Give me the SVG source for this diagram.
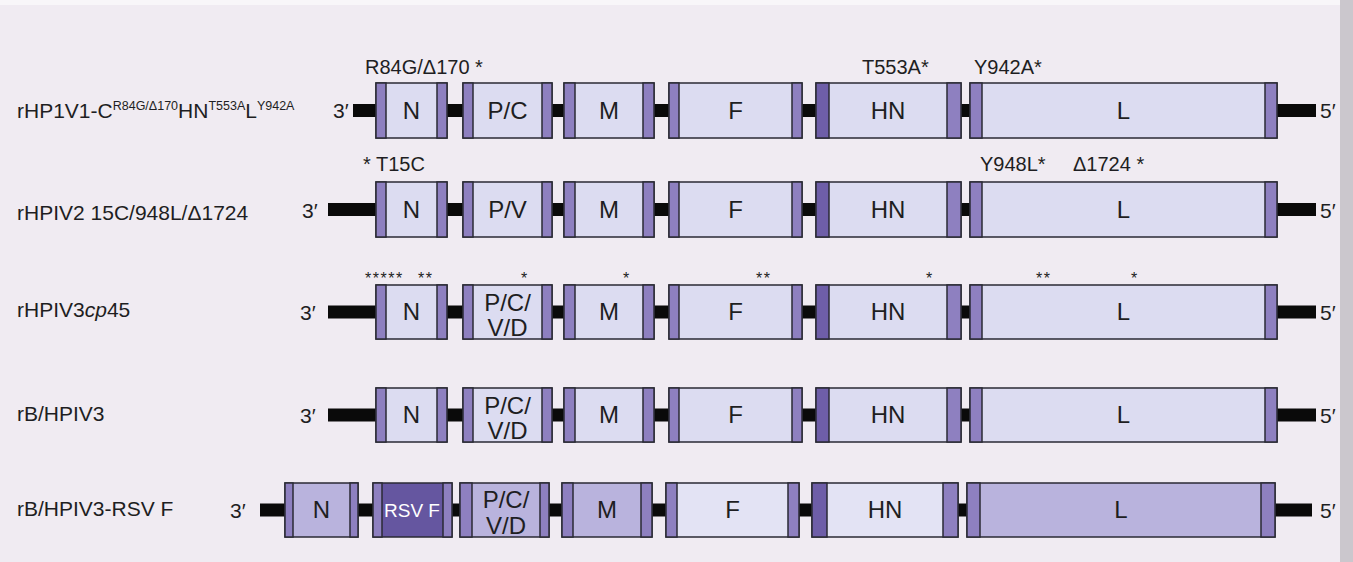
<svg xmlns="http://www.w3.org/2000/svg" width="1353" height="562" viewBox="0 0 1353 562">
<style>
.bg{fill:#f0ebf2}
.bar{fill:#0a0a0a}
.body{fill:#dcdcf1;stroke:#2a2a35;stroke-width:1.5}
.cap{fill:#8e80c0;stroke:#2a2a35;stroke-width:1.5}
.dcap{fill:#6e5ea8;stroke:#2a2a35;stroke-width:1.5}
.b5{fill:#b9b3dd;stroke:#2a2a35;stroke-width:1.5}
.b5l{fill:#e3e3f4;stroke:#2a2a35;stroke-width:1.5}
.rsv{fill:#6556a0;stroke:#2a2a35;stroke-width:1.5}
text{font-family:"Liberation Sans",Arial,Helvetica,sans-serif;fill:#1e1e22}
.lab{font-size:21px}
.sup{font-size:12.5px}
.g{font-size:24px;text-anchor:middle}
.ann{font-size:20px}
.star{font-size:16px;letter-spacing:1.5px}
.end{font-size:21px}
.w{fill:#ffffff;font-size:19px;text-anchor:middle}
</style>
<rect class="bg" x="0" y="0" width="1353" height="562"/>
<rect x="0" y="0" width="1353" height="5" fill="#f8f6f9"/>
<rect x="1340" y="0" width="13" height="562" fill="#cbc7cd"/>

<g id="connectors">
<rect class="bar" x="353" y="104" width="963" height="13"/>
<rect class="bar" x="328" y="203" width="988" height="13"/>
<rect class="bar" x="328" y="305.5" width="988" height="13"/>
<rect class="bar" x="328" y="408.5" width="988" height="13"/>
<rect class="bar" x="260" y="503.5" width="1052" height="13"/>
</g>

<!-- Row 1 -->
<g id="row1">
<text class="lab" x="17" y="118">rHP1V1-C<tspan class="sup" dy="-8">R84G/Δ170</tspan><tspan dy="8">HN</tspan><tspan class="sup" dy="-8">T553A</tspan><tspan dy="8">L</tspan><tspan class="sup" dy="-8">Y942A</tspan></text>
<text class="end" x="333" y="118">3′</text>
<text class="end" x="1320" y="118">5′</text>
<text class="ann" x="365" y="74">R84G/Δ170 *</text>
<text class="ann" x="862" y="74">T553A*</text>
<text class="ann" x="974" y="74">Y942A*</text>
</g>
<g id="r1-N"><rect class="body" x="376" y="83" width="71" height="55"/><rect class="cap" x="376" y="83" width="10" height="55"/><rect class="cap" x="437" y="83" width="10" height="55"/><text class="g" x="411.5" y="119">N</text></g>
<g id="r1-PC"><rect class="body" x="463" y="83" width="89" height="55"/><rect class="cap" x="463" y="83" width="10" height="55"/><rect class="cap" x="542" y="83" width="10" height="55"/><text class="g" x="507.5" y="119">P/C</text></g>
<g id="r1-M"><rect class="body" x="564" y="83" width="90" height="55"/><rect class="cap" x="564" y="83" width="11" height="55"/><rect class="cap" x="643" y="83" width="11" height="55"/><text class="g" x="609" y="119">M</text></g>
<g id="r1-F"><rect class="body" x="669" y="83" width="133" height="55"/><rect class="cap" x="669" y="83" width="10" height="55"/><rect class="cap" x="792" y="83" width="10" height="55"/><text class="g" x="735.5" y="119">F</text></g>
<g id="r1-HN"><rect class="body" x="816" y="83" width="145" height="55"/><rect class="dcap" x="816" y="83" width="13" height="55"/><rect class="cap" x="947" y="83" width="14" height="55"/><text class="g" x="888" y="119">HN</text></g>
<g id="r1-L"><rect class="body" x="970" y="83" width="307" height="55"/><rect class="cap" x="970" y="83" width="12" height="55"/><rect class="cap" x="1265" y="83" width="12" height="55"/><text class="g" x="1123.5" y="119">L</text></g>

<!-- Row 2 -->
<g id="row2">
<text class="lab" x="17" y="220">rHPIV2 15C/948L/Δ1724</text>
<text class="end" x="302" y="218">3′</text>
<text class="end" x="1320" y="218">5′</text>
<text class="ann" x="363" y="171">* T15C</text>
<text class="ann" x="980" y="171">Y948L*</text>
<text class="ann" x="1073" y="171">Δ1724 *</text>
</g>
<g id="r2-N"><rect class="body" x="376" y="182" width="71" height="55"/><rect class="cap" x="376" y="182" width="10" height="55"/><rect class="cap" x="437" y="182" width="10" height="55"/><text class="g" x="411.5" y="218">N</text></g>
<g id="r2-PV"><rect class="body" x="463" y="182" width="89" height="55"/><rect class="cap" x="463" y="182" width="10" height="55"/><rect class="cap" x="542" y="182" width="10" height="55"/><text class="g" x="507.5" y="218">P/V</text></g>
<g id="r2-M"><rect class="body" x="564" y="182" width="90" height="55"/><rect class="cap" x="564" y="182" width="11" height="55"/><rect class="cap" x="643" y="182" width="11" height="55"/><text class="g" x="609" y="218">M</text></g>
<g id="r2-F"><rect class="body" x="669" y="182" width="133" height="55"/><rect class="cap" x="669" y="182" width="10" height="55"/><rect class="cap" x="792" y="182" width="10" height="55"/><text class="g" x="735.5" y="218">F</text></g>
<g id="r2-HN"><rect class="body" x="816" y="182" width="145" height="55"/><rect class="dcap" x="816" y="182" width="13" height="55"/><rect class="cap" x="947" y="182" width="14" height="55"/><text class="g" x="888" y="218">HN</text></g>
<g id="r2-L"><rect class="body" x="970" y="182" width="307" height="55"/><rect class="cap" x="970" y="182" width="12" height="55"/><rect class="cap" x="1265" y="182" width="12" height="55"/><text class="g" x="1123.5" y="218">L</text></g>

<!-- Row 3 -->
<g id="row3">
<text class="lab" x="17" y="317">rHPIV3<tspan font-style="italic">cp</tspan>45</text>
<text class="end" x="300" y="320">3′</text>
<text class="end" x="1320" y="320">5′</text>
<text class="star" x="365" y="284">*****</text>
<text class="star" x="418" y="284">**</text>
<text class="star" x="521" y="284">*</text>
<text class="star" x="623" y="284">*</text>
<text class="star" x="756" y="284">**</text>
<text class="star" x="926" y="284">*</text>
<text class="star" x="1036" y="284">**</text>
<text class="star" x="1131" y="284">*</text>
</g>
<g id="r3-N"><rect class="body" x="376" y="285" width="71" height="54"/><rect class="cap" x="376" y="285" width="10" height="54"/><rect class="cap" x="437" y="285" width="10" height="54"/><text class="g" x="411.5" y="320">N</text></g>
<g id="r3-PCVD"><rect class="body" x="463" y="285" width="89" height="54"/><rect class="cap" x="463" y="285" width="10" height="54"/><rect class="cap" x="542" y="285" width="10" height="54"/><text class="g" x="507.5" y="311">P/C/</text><text class="g" x="507.5" y="336">V/D</text></g>
<g id="r3-M"><rect class="body" x="564" y="285" width="90" height="54"/><rect class="cap" x="564" y="285" width="11" height="54"/><rect class="cap" x="643" y="285" width="11" height="54"/><text class="g" x="609" y="320">M</text></g>
<g id="r3-F"><rect class="body" x="669" y="285" width="133" height="54"/><rect class="cap" x="669" y="285" width="10" height="54"/><rect class="cap" x="792" y="285" width="10" height="54"/><text class="g" x="735.5" y="320">F</text></g>
<g id="r3-HN"><rect class="body" x="816" y="285" width="145" height="54"/><rect class="dcap" x="816" y="285" width="13" height="54"/><rect class="cap" x="947" y="285" width="14" height="54"/><text class="g" x="888" y="320">HN</text></g>
<g id="r3-L"><rect class="body" x="970" y="285" width="307" height="54"/><rect class="cap" x="970" y="285" width="12" height="54"/><rect class="cap" x="1265" y="285" width="12" height="54"/><text class="g" x="1123.5" y="320">L</text></g>

<!-- Row 4 -->
<g id="row4">
<text class="lab" x="17" y="421">rB/HPIV3</text>
<text class="end" x="300" y="423">3′</text>
<text class="end" x="1320" y="423">5′</text>
</g>
<g id="r4-N"><rect class="body" x="376" y="388" width="71" height="54"/><rect class="cap" x="376" y="388" width="10" height="54"/><rect class="cap" x="437" y="388" width="10" height="54"/><text class="g" x="411.5" y="423">N</text></g>
<g id="r4-PCVD"><rect class="body" x="463" y="388" width="89" height="54"/><rect class="cap" x="463" y="388" width="10" height="54"/><rect class="cap" x="542" y="388" width="10" height="54"/><text class="g" x="507.5" y="414">P/C/</text><text class="g" x="507.5" y="439">V/D</text></g>
<g id="r4-M"><rect class="body" x="564" y="388" width="90" height="54"/><rect class="cap" x="564" y="388" width="11" height="54"/><rect class="cap" x="643" y="388" width="11" height="54"/><text class="g" x="609" y="423">M</text></g>
<g id="r4-F"><rect class="body" x="669" y="388" width="133" height="54"/><rect class="cap" x="669" y="388" width="10" height="54"/><rect class="cap" x="792" y="388" width="10" height="54"/><text class="g" x="735.5" y="423">F</text></g>
<g id="r4-HN"><rect class="body" x="816" y="388" width="145" height="54"/><rect class="dcap" x="816" y="388" width="13" height="54"/><rect class="cap" x="947" y="388" width="14" height="54"/><text class="g" x="888" y="423">HN</text></g>
<g id="r4-L"><rect class="body" x="970" y="388" width="307" height="54"/><rect class="cap" x="970" y="388" width="12" height="54"/><rect class="cap" x="1265" y="388" width="12" height="54"/><text class="g" x="1123.5" y="423">L</text></g>

<!-- Row 5 -->
<g id="row5">
<text class="lab" x="17" y="516">rB/HPIV3-RSV F</text>
<text class="end" x="230" y="518">3′</text>
<text class="end" x="1320" y="518">5′</text>
</g>
<g id="r5-N"><rect class="b5" x="285" y="483" width="73" height="54"/><rect class="cap" x="285" y="483" width="8" height="54"/><rect class="cap" x="350" y="483" width="8" height="54"/><text class="g" x="321.5" y="518">N</text></g>
<g id="r5-RSVF"><rect class="rsv" x="373" y="483" width="79" height="54"/><rect class="cap" x="373" y="483" width="9" height="54"/><rect class="cap" x="443" y="483" width="9" height="54"/><text class="w" x="412" y="517">RSV F</text></g>
<g id="r5-PCVD"><rect class="b5" x="460" y="483" width="89" height="54"/><rect class="cap" x="460" y="483" width="12" height="54"/><rect class="cap" x="540" y="483" width="9" height="54"/><text class="g" x="506" y="508">P/C/</text><text class="g" x="506" y="534">V/D</text></g>
<g id="r5-M"><rect class="b5" x="562" y="483" width="90" height="54"/><rect class="cap" x="562" y="483" width="11" height="54"/><rect class="cap" x="641" y="483" width="11" height="54"/><text class="g" x="607" y="518">M</text></g>
<g id="r5-F"><rect class="b5l" x="666" y="483" width="133" height="54"/><rect class="cap" x="666" y="483" width="11" height="54"/><rect class="cap" x="788" y="483" width="11" height="54"/><text class="g" x="732.5" y="518">F</text></g>
<g id="r5-HN"><rect class="b5l" x="812" y="483" width="146" height="54"/><rect class="dcap" x="812" y="483" width="15" height="54"/><rect class="cap" x="943" y="483" width="15" height="54"/><text class="g" x="885" y="518">HN</text></g>
<g id="r5-L"><rect class="b5" x="967" y="483" width="308" height="54"/><rect class="cap" x="967" y="483" width="13" height="54"/><rect class="cap" x="1261" y="483" width="14" height="54"/><text class="g" x="1121" y="518">L</text></g>
</svg>
